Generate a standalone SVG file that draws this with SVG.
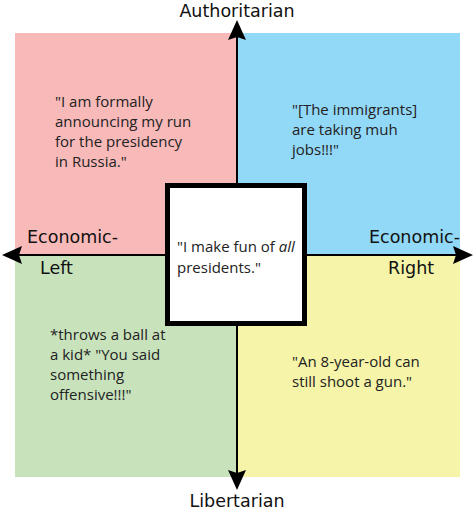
<svg xmlns="http://www.w3.org/2000/svg" width="474" height="515" viewBox="0 0 474 515">
<style>
.axis{font-family:"DejaVu Sans",sans-serif;font-size:17.5px;fill:#111}
.q{font-family:"Open Sans","Noto Sans",sans-serif;font-size:15px;fill:#222}
.line{stroke:#000;stroke-width:2;fill:none}
.head{fill:#000}
</style>
<rect width="474" height="515" fill="#fff"/>
<g id="quadrant-auth-left"><rect x="15" y="33" width="222" height="222" fill="#F8B9B9"/>
<text class="q" x="55" y="107">"I am formally</text>
<text class="q" x="55" y="127">announcing my run</text>
<text class="q" x="55" y="147">for the presidency</text>
<text class="q" x="55" y="167">in Russia."</text></g>
<g id="quadrant-auth-right"><rect x="237" y="33" width="223" height="222" fill="#92D8F7"/>
<text class="q" x="292" y="115">"[The immigrants]</text>
<text class="q" x="292" y="135">are taking muh</text>
<text class="q" x="292" y="155">jobs!!!"</text></g>
<g id="quadrant-lib-left"><rect x="15" y="255" width="222" height="222" fill="#C8E3BC"/>
<text class="q" x="50" y="340">*throws a ball at</text>
<text class="q" x="50" y="360">a kid* "You said</text>
<text class="q" x="50" y="380">something</text>
<text class="q" x="50" y="400">offensive!!!"</text></g>
<g id="quadrant-lib-right"><rect x="237" y="255" width="223" height="222" fill="#F5F4A8"/>
<text class="q" x="292" y="367">"An 8-year-old can</text>
<text class="q" x="292" y="387">still shoot a gun."</text></g>
<g id="connectors">
<line class="line" x1="237" y1="36" x2="237" y2="474"/>
<line class="line" x1="18" y1="255" x2="457" y2="255"/>
<path class="head" d="M237,20 L246,40 L237,37 L228,40 Z"/>
<path class="head" d="M237,490 L246,470 L237,473 L228,470 Z"/>
<path class="head" d="M2,255 L22,246 L19,255 L22,264 Z"/>
<path class="head" d="M473,255 L453,246 L456,255 L453,264 Z"/>
</g>
<g id="center"><rect x="167.5" y="185.5" width="137" height="138" fill="#fff" stroke="#000" stroke-width="5"/>
<text class="q" x="177" y="252">"I make fun of <tspan font-style="italic">all</tspan></text>
<text class="q" x="177" y="273">presidents."</text></g>
<g id="labels">
<text class="axis" x="237" y="17" text-anchor="middle">Authoritarian</text>
<text class="axis" x="237" y="507" text-anchor="middle">Libertarian</text>
<text class="axis" x="27" y="243">Economic-</text>
<text class="axis" x="40" y="274">Left</text>
<text class="axis" x="460" y="243" text-anchor="end">Economic-</text>
<text class="axis" x="388" y="274">Right</text>
</g>
</svg>
